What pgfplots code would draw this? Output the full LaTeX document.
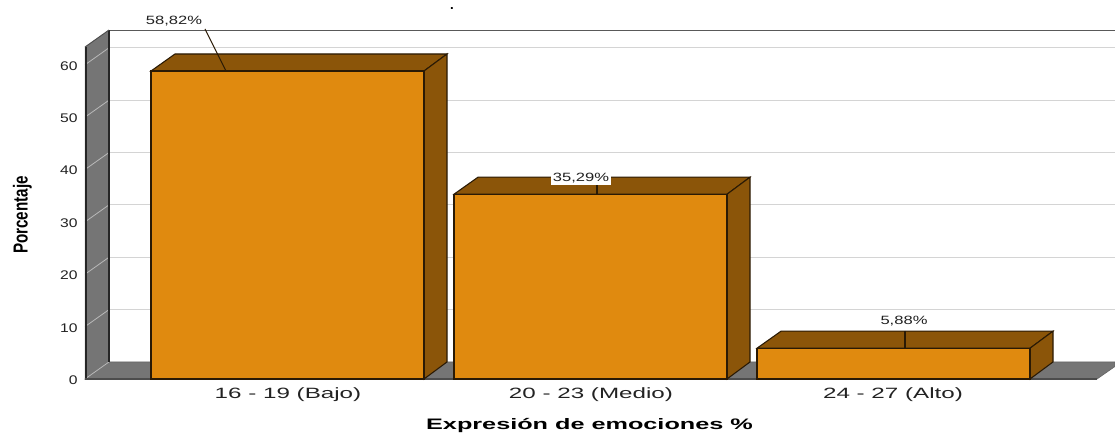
\documentclass[border=0pt]{standalone}
\usepackage{pgfplots}
\pgfplotsset{compat=1.18}
\usepackage{fontspec}
\setmainfont{Liberation Sans}
\newfontfamily\xtickf[FakeStretch=1.62]{Liberation Sans}
\newfontfamily\ytickf[FakeStretch=1.25]{Liberation Sans}
\newfontfamily\dataf[FakeStretch=1.38]{Liberation Sans}
\newfontfamily\xlabf[FakeStretch=1.66]{Liberation Sans}
\newfontfamily\ylabf[FakeStretch=0.75]{Liberation Sans}
\definecolor{barface}{HTML}{E08A0F}
\definecolor{bardark}{HTML}{8B5509}
\definecolor{baredge}{HTML}{2A1A05}
\definecolor{wallgray}{HTML}{757575}
\definecolor{gridgray}{HTML}{D4D4D4}
\definecolor{txt}{HTML}{222222}
\begin{document}
\begin{tikzpicture}
\path[use as bounding box] (0,0) rectangle (836.25pt,326.25pt);
\begin{axis}[
  at={(63.75pt,42pt)}, anchor=south west,
  scale only axis, width=772.5pt, height=261.75pt,
  xmin=85, xmax=1115, ymin=0, ymax=66.65,
  clip=false,
  axis line style={draw=none},
  major tick length=0pt,
  ytick={0,10,20,30,40,50,60},
  xtick={288,591,893},
  xticklabels={16 - 19 (Bajo),20 - 23 (Medio),24 - 27 (Alto)},
  /pgf/number format/assume math mode=true,
  x tick label style={font=\xtickf\fontsize{11.2pt}{13pt}\selectfont,text=txt,yshift=-3pt},
  y tick label style={font=\ytickf\fontsize{9.4pt}{11pt}\selectfont,text=txt,xshift=-2pt,yshift=-0.8pt},
  every axis x label/.style={at={(axis cs:589.5,-8.9)},anchor=center},
  every axis y label/.style={at={(axis cs:22.5,31.3)},anchor=center,rotate=90},
  xlabel={\xlabf\bfseries\fontsize{11.4pt}{13pt}\selectfont Expresión de emociones \%},
  ylabel={\ylabf\bfseries\fontsize{15.2pt}{17pt}\selectfont Porcentaje},
]
% back wall top
\addplot[draw=black!65,line width=0.6pt] coordinates {(109,66.65) (1115,66.65)};
% floor
\addplot[fill=wallgray,draw=black!60,line width=0.5pt] coordinates {(85,0) (109,3.25) (1115,3.25) (1115,2.4) (1097,0)} -- cycle;
% left wall
\addplot[fill=wallgray,draw=none] coordinates {(85,0) (109,3.25) (109,66.65) (85,63.4)} -- cycle;
% gridlines
\addplot[gridgray,line width=0.9pt] coordinates {(109,13.25) (1115,13.25)};
\addplot[gridgray,line width=0.9pt] coordinates {(109,23.25) (1115,23.25)};
\addplot[gridgray,line width=0.9pt] coordinates {(109,33.25) (1115,33.25)};
\addplot[gridgray,line width=0.9pt] coordinates {(109,43.25) (1115,43.25)};
\addplot[gridgray,line width=0.9pt] coordinates {(109,53.25) (1115,53.25)};
\addplot[gridgray,line width=0.9pt] coordinates {(109,63.25) (1115,63.25)};
\addplot[gray!55,line width=0.6pt] coordinates {(85,0) (109,3.25)};
\addplot[gray!55,line width=0.6pt] coordinates {(85,10) (109,13.25)};
\addplot[gray!55,line width=0.6pt] coordinates {(85,20) (109,23.25)};
\addplot[gray!55,line width=0.6pt] coordinates {(85,30) (109,33.25)};
\addplot[gray!55,line width=0.6pt] coordinates {(85,40) (109,43.25)};
\addplot[gray!55,line width=0.6pt] coordinates {(85,50) (109,53.25)};
\addplot[gray!55,line width=0.6pt] coordinates {(85,60) (109,63.25)};
% wall edges
\addplot[draw=black!85,line width=1.5pt] coordinates {(86,0) (86,63.4)};
\addplot[draw=black!85,line width=1.5pt] coordinates {(108.5,3.25) (108.5,66.65)};
\addplot[draw=black!70,line width=0.7pt] coordinates {(85,63.4) (109,66.65)};
\addplot[draw=black!70,line width=0.8pt] coordinates {(85,0) (1097,0)};
% bar 1
\addplot[fill=bardark,draw=baredge,line width=0.8pt] coordinates {(151,58.82) (175,62.07) (447,62.07) (424,58.82)} -- cycle;
\addplot[fill=bardark,draw=baredge,line width=0.8pt] coordinates {(424,0) (447,3.25) (447,62.07) (424,58.82)} -- cycle;
\addplot[fill=barface,draw=baredge,line width=0.8pt] coordinates {(151,0) (151,58.82) (424,58.82) (424,0)} -- cycle;
% bar 2
\addplot[fill=bardark,draw=baredge,line width=0.8pt] coordinates {(454,35.29) (478,38.54) (750,38.54) (727,35.29)} -- cycle;
\addplot[fill=bardark,draw=baredge,line width=0.8pt] coordinates {(727,0) (750,3.25) (750,38.54) (727,35.29)} -- cycle;
\addplot[fill=barface,draw=baredge,line width=0.8pt] coordinates {(454,0) (454,35.29) (727,35.29) (727,0)} -- cycle;
% bar 3
\addplot[fill=bardark,draw=baredge,line width=0.8pt] coordinates {(757,5.88) (781,9.13) (1053,9.13) (1030,5.88)} -- cycle;
\addplot[fill=bardark,draw=baredge,line width=0.8pt] coordinates {(1030,0) (1053,3.25) (1053,9.13) (1030,5.88)} -- cycle;
\addplot[fill=barface,draw=baredge,line width=0.8pt] coordinates {(757,0) (757,5.88) (1030,5.88) (1030,0)} -- cycle;
% leaders
\addplot[draw=baredge,line width=0.8pt] coordinates {(205,66.85) (226,58.82)};
\addplot[draw=baredge,line width=0.8pt] coordinates {(597,37.05) (597,35.29)};
\addplot[draw=baredge,line width=0.8pt] coordinates {(905,9.17) (905,5.88)};
% data labels
\node[font=\dataf\fontsize{9pt}{10pt}\selectfont,text=txt,inner sep=1pt] at (axis cs:174,68.4) {58,82\%};
\node[font=\dataf\fontsize{9pt}{10pt}\selectfont,text=txt,fill=white,inner sep=1.5pt] at (axis cs:581,38.4) {35,29\%};
\node[font=\dataf\fontsize{9pt}{10pt}\selectfont,text=txt,inner sep=1pt] at (axis cs:904,11.1) {5,88\%};
\node[font=\bfseries\fontsize{10pt}{11pt}\selectfont,text=black,inner sep=0pt] at (axis cs:452,70.7) {.};
\end{axis}
\end{tikzpicture}
\end{document}
